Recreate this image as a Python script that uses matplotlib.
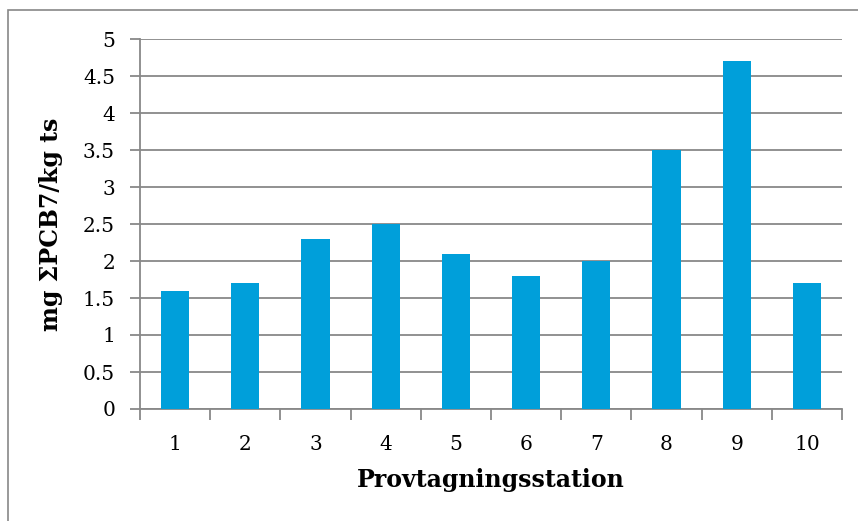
import matplotlib
matplotlib.use("Agg")
import matplotlib.pyplot as plt
from matplotlib.patches import Rectangle
import numpy as np

stations = ["1", "2", "3", "4", "5", "6", "7", "8", "9", "10"]
pcb7 = [1.6, 1.7, 2.3, 2.5, 2.1, 1.8, 2.0, 3.5, 4.7, 1.7]
yticks = [0, 0.5, 1, 1.5, 2, 2.5, 3, 3.5, 4, 4.5, 5]

grey = "#888888"
blue = "#009FDA"

plt.rcParams["font.family"] = ["DejaVu Serif"]

fig = plt.figure(figsize=(8.58, 5.21), dpi=100)
W, H = 858, 521

# outer chart frame
fig.patches.append(Rectangle((8 / W, -0.1), 1.2, 1 - 10 / H + 0.1,
                             transform=fig.transFigure, fill=False,
                             edgecolor=grey, linewidth=1.2))

ax = fig.add_axes([140 / W, 1 - 409 / H, (842 - 140) / W, (409 - 39) / H])

x = np.arange(len(stations))
ax.bar(x, pcb7, width=0.4, color=blue, zorder=3)

ax.set_xlim(-0.5, len(stations) - 0.5)
ax.set_ylim(0, 5)
ax.set_yticks(yticks)
ax.set_yticklabels([f"{v:g}" for v in yticks], fontsize=14.5)
ax.yaxis.grid(True, color=grey, linewidth=1.3, zorder=0)

ax.set_xticks(x)
ax.set_xticklabels(stations, fontsize=14.5)
ax.tick_params(axis="x", length=0, pad=19)
ax.set_xticks(np.arange(len(stations) + 1) - 0.5, minor=True)
ax.tick_params(axis="x", which="minor", length=8, width=1.3, color=grey, direction="out")
ax.tick_params(axis="y", length=7, width=1.3, color=grey, pad=11)

for s in ["top", "right"]:
    ax.spines[s].set_visible(False)
for s in ["left", "bottom"]:
    ax.spines[s].set_color(grey)
    ax.spines[s].set_linewidth(1.3)

ax.set_xlabel("Provtagningsstation", fontsize=17, fontweight="bold", labelpad=10)
ax.set_ylabel("mg ΣPCB7/kg ts", fontsize=17, fontweight="bold", labelpad=14)

fig.savefig("out.png", dpi=100)
